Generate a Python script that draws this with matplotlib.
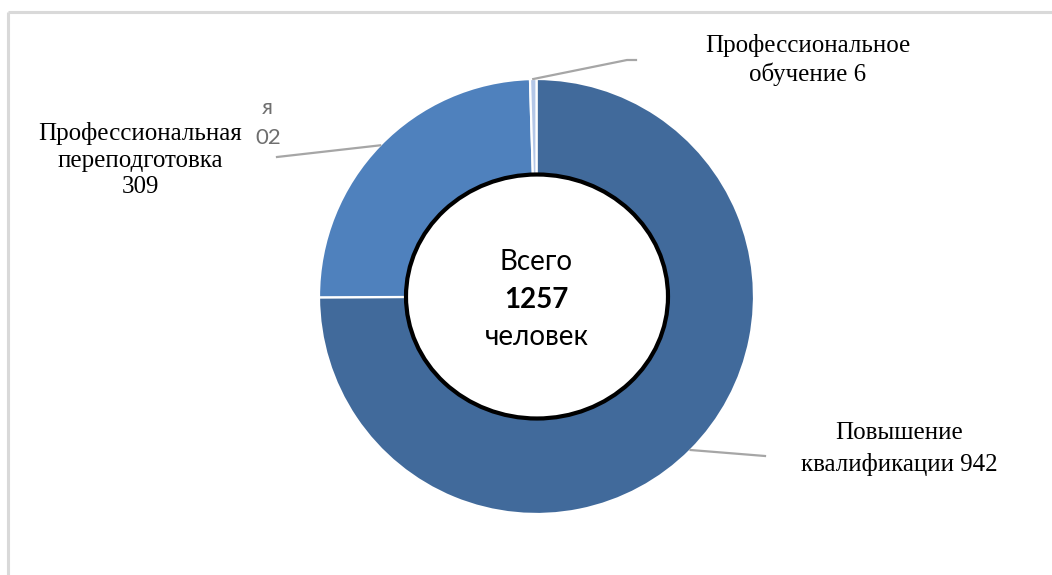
import numpy as np
import matplotlib
matplotlib.use('Agg')
import matplotlib.pyplot as plt
from matplotlib.patches import Ellipse

# data
labels = ['Повышение\nквалификации 942', 'Профессиональная\nпереподготовка\n309', 'Профессиональное\nобучение 6']
values = [942, 309, 6]
total = sum(values)
colors = ['#416a9b', '#4f81bd', '#b4c7e7']

W, H = 1052, 575
fig = plt.figure(figsize=(W / 100, H / 100), dpi=100)
ax = fig.add_axes([0, 0, 1, 1])

cx, cy = 536.5, H - 296.5
R = 217.5

ax.pie(values, colors=colors, startangle=90, counterclock=False,
       radius=R, center=(cx, cy),
       wedgeprops=dict(width=110, edgecolor='white', linewidth=1.6))

# white centre with black outline
ax.add_patch(Ellipse((cx + 0.5, cy), 262, 244, facecolor='white',
                     edgecolor='black', linewidth=3.0, zorder=5))

ax.text(cx, H - 262, 'Всего', ha='center', va='center', fontsize=20,
        family='Lato', zorder=6)
ax.text(cx, H - 300, str(total), ha='center', va='center', fontsize=20,
        family='Lato', fontweight='bold', zorder=6)
ax.text(cx, H - 337, 'человек', ha='center', va='center', fontsize=20,
        family='Lato', zorder=6)

# leader lines from the middle of each slice
cum = np.cumsum([0] + values)
mids = [90 - (cum[i] + values[i] / 2) / total * 360 for i in range(len(values))]
elbows = [[(765, 456)], [(277, 157)], [(627, 60), (636, 60)]]
for ang, pts in zip(mids, elbows):
    a = np.deg2rad(ang)
    xs = [cx + R * np.cos(a)] + [p[0] for p in pts]
    ys = [cy + R * np.sin(a)] + [H - p[1] for p in pts]
    ax.plot(xs, ys, color='#a6a6a6', linewidth=1.6, zorder=1)

# remains of an older label peeking out behind the left one
ax.text(267, H - 108, 'я', ha='center', va='center', fontsize=16,
        family='Lato', color='#6f6f6f')
ax.text(268, H - 138, '02', ha='center', va='center', fontsize=16,
        family='Lato', color='#6f6f6f')

# labels
label_pos = [(899, H - 449), (140, H - 160), (808, H - 60)]
spacing = [1.45, 1.28, 1.28]
for lab, (x, y), ls in zip(labels, label_pos, spacing):
    ax.text(x, y, lab, ha='center', va='center', fontsize=18,
            family='Liberation Serif', linespacing=ls, zorder=4,
            bbox=dict(facecolor='white', edgecolor='none', pad=1))

# chart frame
ax.plot([8, 8], [0, H - 12], color='#d9d9d9', linewidth=2.2, solid_capstyle='butt')
ax.plot([8, W], [H - 12, H - 12], color='#d9d9d9', linewidth=2.2, solid_capstyle='butt')

ax.set_xlim(0, W)
ax.set_ylim(0, H)
ax.set_aspect('auto')
ax.axis('off')

fig.savefig('out.png', dpi=100)
